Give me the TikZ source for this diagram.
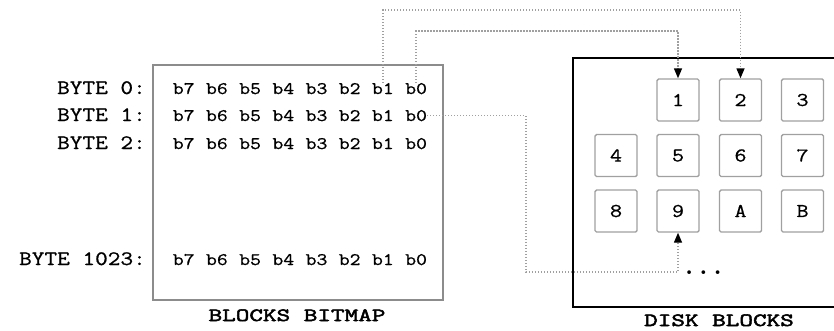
\documentclass[tikz,border=0pt]{standalone}
\usepackage{fontspec}
\newfontfamily\codefont[FakeStretch=1.2,FakeBold=0.8]{Latin Modern Mono}
\newfontfamily\codebold[FakeStretch=1.42,FakeBold=2.8]{Latin Modern Mono}
\newfontfamily\dotfont{lmmonolt10-bold.otf}
\usetikzlibrary{arrows.meta}
\definecolor{boxgray}{HTML}{8C8C8C}
\definecolor{blkgray}{HTML}{A0A0A0}
\definecolor{linkgray}{HTML}{A0A0A0}
\begin{document}
\begin{tikzpicture}[x=1pt,y=-1pt,
  bit/.style={font=\fontsize{17.6}{20}\codefont, inner sep=0pt, anchor=base},
  bytelbl/.style={font=\fontsize{20.5}{24}\codefont, inner sep=0pt, anchor=base east},
  title/.style={font=\fontsize{18.6}{24}\codebold, inner sep=0pt, anchor=base},
  blk/.style={draw=blkgray, line width=1.4pt, rounded corners=1.5pt,
    minimum size=42pt, inner sep=0pt, font=\fontsize{19.5}{20}\codefont},
  link/.style={draw=linkgray, line width=1.4pt, dash pattern=on 1.3pt off 1.7pt},
  tip/.style={-{Triangle[length=10pt,width=8pt,color=black]}}
]
\useasboundingbox (0,0) rectangle (834,330);
\clip (0,0) rectangle (834,330);

% bitmap frame
\node[draw=boxgray, line width=1.1pt, minimum width=290pt, minimum height=235pt,
  inner sep=0pt] (bitmap) at (298,182.5) {};

% byte labels
\node[bytelbl] (l0) at (146,94) {BYTE 0:};
\node[bytelbl] (l1) at (146,121) {BYTE 1:};
\node[bytelbl] (l2) at (146,149) {BYTE 2:};
\node[bytelbl] (l3) at (146,265) {BYTE 1023:};

% bits of each byte
\foreach \r/\y in {0/94,1/121,2/149,3/265}
  \foreach \k in {0,...,7}
    \node[bit] (r\r b\k) at ({183.7+33.2*(7-\k)},\y) {b\k};

\node[title] (bmtitle) at (297,321) {BLOCKS BITMAP};

% disk frame (open to the right)
\draw[line width=2pt] (573,58) rectangle (850,307);
\node[title] (dktitle) at (719,326) {DISK BLOCKS};

% disk blocks
\node[blk] (blk1) at (678,100) {1};
\node[blk] (blk2) at (740.5,100) {2};
\node[blk] (blk3) at (802.5,100) {3};
\node[blk] (blk4) at (616,155.5) {4};
\node[blk] (blk5) at (678,155.5) {5};
\node[blk] (blk6) at (740.5,155.5) {6};
\node[blk] (blk7) at (802.5,155.5) {7};
\node[blk] (blk8) at (616,211) {8};
\node[blk] (blk9) at (678,211) {9};
\node[blk] (blkA) at (740.5,211) {A};
\node[blk] (blkB) at (802.5,211) {B};
\node[font=\fontsize{27}{30}\dotfont, inner sep=0pt, anchor=base west] (dots) at (682,274.5) {...};

% bit-to-block links
\coordinate (c1) at (740.5,10);
\coordinate (c2) at (678,31);
\coordinate (c3) at (526,272);
\draw[link,tip] (r0b1.north) |- (c1) -- (blk2.north);
\draw[link,tip] (r0b0.north) |- (c2) -- (blk1.north);
\draw[link,tip] (r1b0.east) -| (c3) -| (blk9.south);
\end{tikzpicture}
\end{document}
